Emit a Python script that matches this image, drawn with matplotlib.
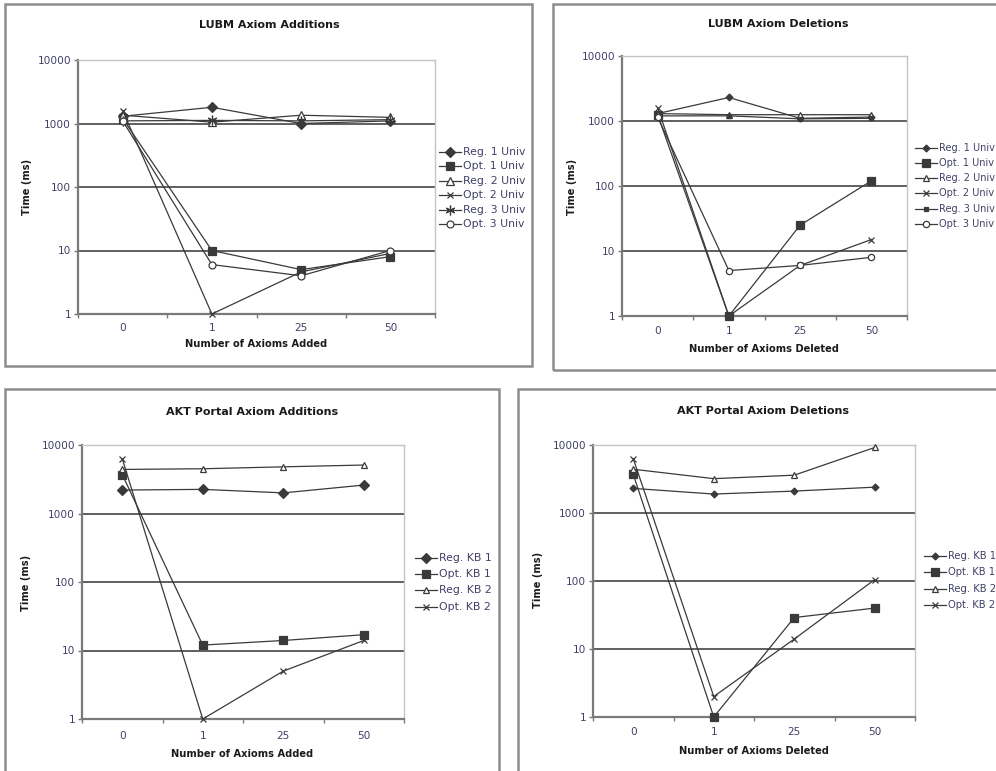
import matplotlib
matplotlib.use("Agg")
import matplotlib.pyplot as plt
from matplotlib.patches import Rectangle
from matplotlib.lines import Line2D

W, H = 996, 771

# ---------------- data ----------------
x_labels = ["0", "1", "25", "50"]

lubm_add_labels = ["Reg. 1 Univ", "Opt. 1 Univ", "Reg. 2 Univ", "Opt. 2 Univ", "Reg. 3 Univ", "Opt. 3 Univ"]
lubm_add_reg1 = [1300, 1800, 1000, 1100]
lubm_add_opt1 = [1200, 10, 5, 8]
lubm_add_reg2 = [1350, 1050, 1350, 1250]
lubm_add_opt2 = [1600, 1, 4.6, 9]
lubm_add_reg3 = [1100, 1120, 1100, 1150]
lubm_add_opt3 = [1100, 6, 4, 10]

lubm_del_labels = ["Reg. 1 Univ", "Opt. 1 Univ", "Reg. 2 Univ", "Opt. 2 Univ", "Reg. 3 Univ", "Opt. 3 Univ"]
lubm_del_reg1 = [1300, 2300, 1100, 1150]
lubm_del_opt1 = [1250, 1, 25, 120]
lubm_del_reg2 = [1300, 1250, 1250, 1250]
lubm_del_opt2 = [1600, 1, 6, 15]
lubm_del_reg3 = [1200, 1200, 1080, 1100]
lubm_del_opt3 = [1150, 5, 6, 8]

akt_add_labels = ["Reg. KB 1", "Opt. KB 1", "Reg. KB 2", "Opt. KB 2"]
akt_add_reg1 = [2200, 2250, 2000, 2600]
akt_add_opt1 = [3700, 12, 14, 17]
akt_add_reg2 = [4400, 4500, 4800, 5100]
akt_add_opt2 = [6300, 1, 5, 14]

akt_del_labels = ["Reg. KB 1", "Opt. KB 1", "Reg. KB 2", "Opt. KB 2"]
akt_del_reg1 = [2300, 1900, 2100, 2400]
akt_del_opt1 = [3700, 1, 29, 40]
akt_del_reg2 = [4400, 3200, 3600, 9200]
akt_del_opt2 = [6300, 2, 14, 105]

y_ticks = [1, 10, 100, 1000, 10000]

# ---------------- styling ----------------
LINE = "#3a3a3a"
TICKC = "#404068"
TXT = "#1a1a1a"
BOX = "#8c8c8c"

fig = plt.figure(figsize=(W / 100, H / 100), dpi=100)
fig.patch.set_facecolor("white")


def fx(x):
    return x / W


def fy(y):
    return 1 - y / H


def box(x0, y0, x1, y1):
    r = Rectangle((fx(x0), fy(y1)), fx(x1) - fx(x0), fy(y0) - fy(y1),
                  transform=fig.transFigure, fill=False, edgecolor=BOX, lw=1.8,
                  clip_on=False)
    fig.add_artist(r)


def style(marker, ms, filled=True, mew=0.9):
    return dict(marker=marker, markersize=ms, color=LINE, lw=0.9,
                markerfacecolor=(LINE if filled else "white"),
                markeredgecolor=LINE, markeredgewidth=mew)


def panel(rect, series, labels, styles, title, title_xy, xlabel, xlabel_xy,
          ylabel_xy, xtick_y, leg_x, leg_rows, leg_fs=7.8):
    x0, y0, x1, y1 = rect
    ax = fig.add_axes([fx(x0), fy(y1), fx(x1) - fx(x0), fy(y0) - fy(y1)])
    ax.set_yscale("log")
    ax.set_ylim(1, 10000)
    ax.set_xlim(-0.5, 3.5)
    for v in [10, 100, 1000]:
        ax.axhline(v, color="#444444", lw=1.2, zorder=1)
    xs = list(range(len(x_labels)))
    for vals, st in zip(series, styles):
        ax.plot(xs, vals, zorder=3, clip_on=False, **st)
    for s in ["top", "right"]:
        ax.spines[s].set_color("#c4c4c4")
        ax.spines[s].set_linewidth(1.0)
    for s in ["left", "bottom"]:
        ax.spines[s].set_color("#7a7a7a")
        ax.spines[s].set_linewidth(1.6)
    ax.set_yticks(y_ticks)
    ax.set_yticklabels([str(t) for t in y_ticks])
    ax.minorticks_off()
    ax.tick_params(axis="y", direction="out", length=3, width=1, color="#7a7a7a",
                   labelsize=7.6, labelcolor=TICKC, pad=2)
    ax.set_xticks([-0.5, 0.5, 1.5, 2.5, 3.5])
    ax.set_xticklabels([])
    ax.tick_params(axis="x", direction="out", length=3, width=1, color="#7a7a7a")
    for i, lab in enumerate(x_labels):
        fig.text(fx(x0 + (x1 - x0) * (i + 0.5) / 4), fy(xtick_y), lab,
                 ha="center", va="center", fontsize=7.6, color=TICKC)
    fig.text(fx(title_xy[0]), fy(title_xy[1]), title, ha="center", va="center",
             fontsize=8, fontweight="bold", color=TXT)
    fig.text(fx(xlabel_xy[0]), fy(xlabel_xy[1]), xlabel, ha="center", va="center",
             fontsize=7.1, fontweight="bold", color=TXT)
    fig.text(fx(ylabel_xy[0]), fy(ylabel_xy[1]), "Time (ms)", ha="center",
             va="center", rotation=90, fontsize=7.1, fontweight="bold", color=TXT)
    # legend
    for lab, st, ry in zip(labels, styles, leg_rows):
        fig.add_artist(Line2D([fx(leg_x), fx(leg_x + 22)], [fy(ry), fy(ry)],
                              transform=fig.transFigure, color=LINE, lw=0.9))
        fig.add_artist(Line2D([fx(leg_x + 11)], [fy(ry)], transform=fig.transFigure,
                              linestyle="none", marker=st["marker"],
                              markersize=st["markersize"],
                              markerfacecolor=st["markerfacecolor"],
                              markeredgecolor=st["markeredgecolor"],
                              markeredgewidth=st["markeredgewidth"]))
        fig.text(fx(leg_x + 24), fy(ry), lab, ha="left", va="center",
                 fontsize=leg_fs, color=TICKC)
    return ax


ASTER = (6, 2, 0)

# boxes
box(5, 4, 532, 366)
box(553, 4, 1010, 370)
box(5, 389, 499, 790)
box(518, 389, 1010, 790)

panel((78, 60, 435, 314),
      [lubm_add_reg1, lubm_add_opt1, lubm_add_reg2, lubm_add_opt2, lubm_add_reg3, lubm_add_opt3],
      lubm_add_labels,
      [style("D", 5.5), style("s", 5.5), style("^", 6, False), style("x", 5),
       style(ASTER, 7), style("o", 5, False)],
      "LUBM Axiom Additions", (269, 25), "Number of Axioms Added", (256, 344),
      (27, 187), 328, 439, [152, 166, 181, 195, 210, 224])

panel((622, 56, 907, 316),
      [lubm_del_reg1, lubm_del_opt1, lubm_del_reg2, lubm_del_opt2, lubm_del_reg3, lubm_del_opt3],
      lubm_del_labels,
      [style("D", 3.5), style("s", 5.5), style("^", 5, False), style("x", 4),
       style("s", 3), style("o", 4.5, False)],
      "LUBM Axiom Deletions", (778, 24), "Number of Axioms Deleted", (764, 349),
      (572, 187), 331, 915, [148, 163, 178, 193, 209, 224], leg_fs=7.0)

panel((82, 445, 404, 719),
      [akt_add_reg1, akt_add_opt1, akt_add_reg2, akt_add_opt2],
      akt_add_labels,
      [style("D", 5), style("s", 5.5), style("^", 4.5, False), style("x", 4)],
      "AKT Portal Axiom Additions", (252, 412), "Number of Axioms Added", (242, 754),
      (26, 583), 736, 415, [558, 574, 590, 607])

panel((593, 445, 915, 717),
      [akt_del_reg1, akt_del_opt1, akt_del_reg2, akt_del_opt2],
      akt_del_labels,
      [style("D", 3.5), style("s", 5.5), style("^", 5, False), style("x", 4)],
      "AKT Portal Axiom Deletions", (763, 411), "Number of Axioms Deleted", (754, 751),
      (538, 580), 732, 924, [556, 572, 589, 605], leg_fs=7.2)

fig.savefig("out.png", dpi=100, facecolor="white")
